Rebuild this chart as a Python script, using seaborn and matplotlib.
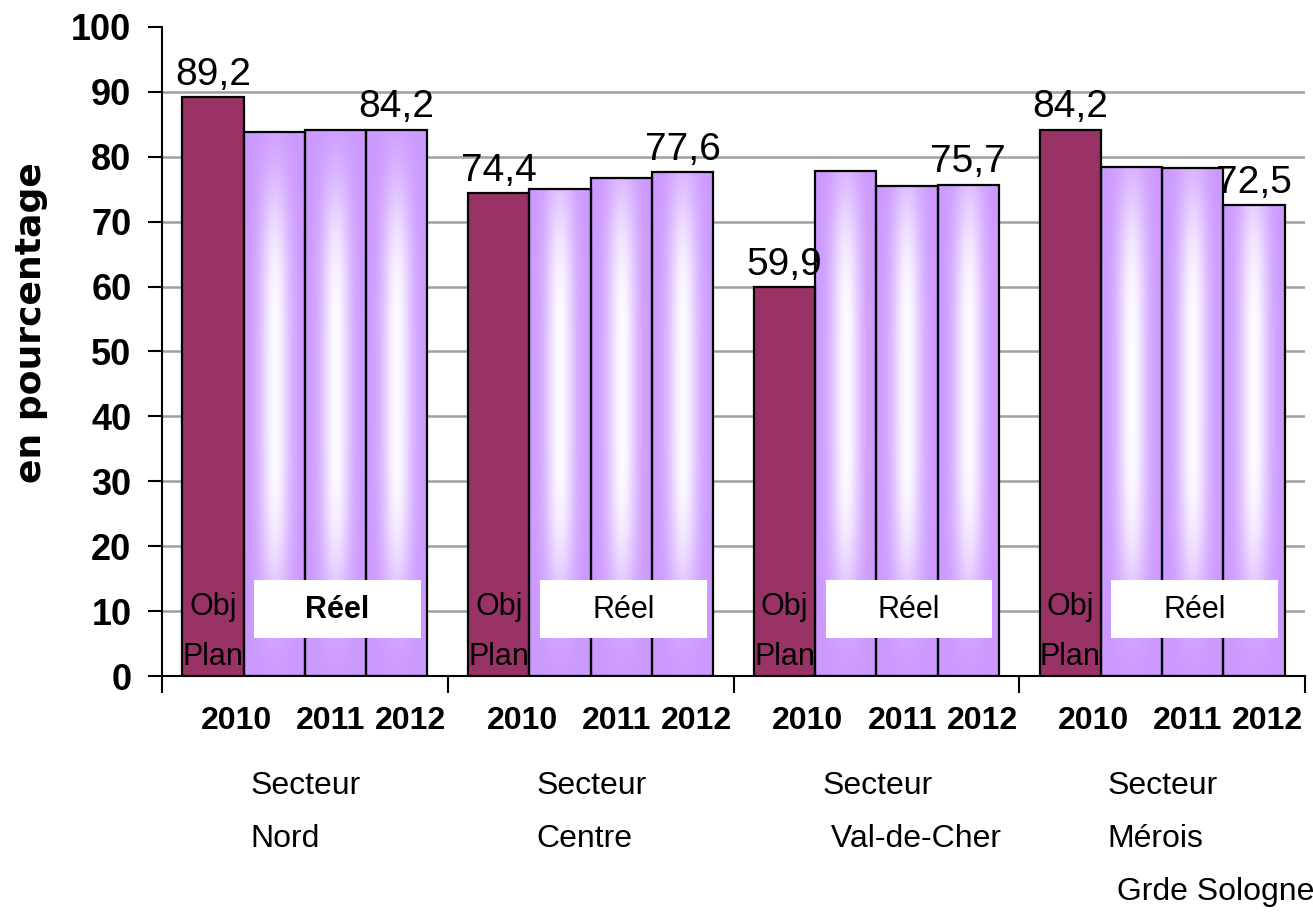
import numpy as np
import pandas as pd
import seaborn as sns
import matplotlib.pyplot as plt
from matplotlib import font_manager
from matplotlib.patches import Rectangle
from matplotlib.transforms import blended_transform_factory

# ===============================
# Data
# ===============================
SECTEURS = ["Nord", "Centre", "Val-de-Cher", "Mérois"]
SECTEUR_LIGNES = [
    ["Secteur", "Nord"],
    ["Secteur", "Centre"],
    ["Secteur", " Val-de-Cher"],
    ["Secteur", "Mérois", " Grde Sologne"],
]
SERIES = ["Obj Plan 2010", "Réel 2010", "Réel 2011", "Réel 2012"]
OBJ_2010 = [89.2, 74.4, 59.9, 84.2]
REEL_2010 = [83.8, 75.1, 77.8, 78.5]
REEL_2011 = [84.1, 76.7, 75.5, 78.2]
REEL_2012 = [84.2, 77.6, 75.7, 72.5]
YEARS = ["2010", "2011", "2012"]
YTICKS = list(range(0, 101, 10))

# ===============================
# Style
# ===============================
MAROON = "#993366"
PURPLE = "#cc99ff"
GRID = "#a0a0a0"

sns.set_style("white")
plt.rcParams["font.family"] = ["Liberation Sans", "DejaVu Sans"]
plt.rcParams["text.color"] = "black"
plt.rcParams["axes.labelcolor"] = "black"
plt.rcParams["xtick.color"] = "black"
plt.rcParams["ytick.color"] = "black"

# narrow face for value labels / sector names if one is installed
installed = {f.name for f in font_manager.fontManager.ttflist}
if "Liberation Sans Narrow" in installed:
    NARROW, VAL_SIZE, SECT_SIZE = "Liberation Sans Narrow", 32, 26
else:
    NARROW, VAL_SIZE, SECT_SIZE = "Liberation Sans", 28, 23

df = pd.DataFrame({
    "secteur": SECTEURS * len(SERIES),
    "serie": np.repeat(SERIES, len(SECTEURS)),
    "valeur": OBJ_2010 + REEL_2010 + REEL_2011 + REEL_2012,
})

fig = plt.figure(figsize=(13.13, 9.15), dpi=100)
ax = fig.add_axes([0.1234, 0.2612, 0.8705, 0.7093])

sns.barplot(
    data=df, x="secteur", y="valeur", hue="serie",
    order=SECTEURS, hue_order=SERIES,
    palette=[MAROON, PURPLE, PURPLE, PURPLE], saturation=1,
    width=0.857, errorbar=None, edgecolor="black", linewidth=1.6,
    legend=False, zorder=3, ax=ax,
)

# --- "centre glow" gradient on the Réel bars ---
base = np.array([0.80, 0.60, 1.00])
for cont in ax.containers[1:]:
    for bar in cont:
        x0, w, h = bar.get_x(), bar.get_width(), bar.get_height()
        yy = np.linspace(h, 0, 300)[:, None]
        uu = np.linspace(0, 1, 80)[None, :]
        glow = 0.97 * np.exp(-((uu - 0.5) / 0.24) ** 2) * np.exp(-(np.abs(yy - 44) / 32) ** 4)
        rgb = base + (1 - base) * glow[..., None]
        im = ax.imshow(rgb, extent=(x0, x0 + w, 0, h), origin="upper",
                       aspect="auto", zorder=2.5, interpolation="bilinear")
        im.set_clip_path(bar)
        bar.set_facecolor("none")

ax.set_xlim(-0.5, 3.5)
ax.set_ylim(0, 100)

# --- axes, grid, ticks ---
ax.set_axisbelow(True)
ax.set_yticks(YTICKS)
ax.yaxis.grid(True, color=GRID, linewidth=1.8)
ax.yaxis.get_gridlines()[-1].set_visible(False)
for side in ["top", "right"]:
    ax.spines[side].set_visible(False)
for side in ["left", "bottom"]:
    ax.spines[side].set_color("black")
    ax.spines[side].set_linewidth(1.5)

ax.tick_params(axis="y", left=True, length=10, width=1.5, pad=12,
               labelsize=26, direction="out")
for lab in ax.get_yticklabels():
    lab.set_fontweight("bold")

ax.set_xticks(np.arange(-0.5, 4, 1))
ax.set_xticklabels([])
ax.tick_params(axis="x", bottom=True, length=12, width=1.5, direction="out")
ax.set_xlabel("")
ax.set_ylabel("en pourcentage", fontsize=26, fontweight="bold", family="DejaVu Sans")
ax.yaxis.set_label_coords(-0.100, 0.545)

trans = blended_transform_factory(ax.transData, ax.transAxes)

# --- year labels and sector names under the axis ---
YEAR_DX = [-0.24, 0.09, 0.37]
for i in range(len(SECTEURS)):
    for dx, yr in zip(YEAR_DX, YEARS):
        ax.text(i + dx, -0.069, yr, transform=trans, ha="center", va="center",
                fontsize=23, fontweight="bold")
    for k, line in enumerate(SECTEUR_LIGNES[i]):
        ax.text(i - 0.19, -0.1695 - 0.0815 * k, line, transform=trans,
                ha="left", va="center", fontsize=SECT_SIZE, family=NARROW)

# --- value labels on Obj Plan 2010 and Réel 2012 ---
for cont in (ax.containers[0], ax.containers[3]):
    for bar in cont:
        v = bar.get_height()
        ax.annotate(f"{v:.1f}".replace(".", ","),
                    xy=(bar.get_x() + bar.get_width() / 2, v),
                    xytext=(0, 9), textcoords="offset points",
                    ha="center", va="baseline", fontsize=VAL_SIZE,
                    family=NARROW, zorder=6)

# --- "Obj Plan" and "Réel" captions inside the bars ---
for i, bar in enumerate(ax.containers[0]):
    cx = bar.get_x() + bar.get_width() / 2
    ax.text(cx, 10.6, "Obj", ha="center", va="center", fontsize=22, zorder=6)
    ax.text(cx, 2.9, "Plan", ha="center", va="center", fontsize=22, zorder=6)
    ax.add_patch(Rectangle((i + 0.114 - 0.292, 5.9), 0.584, 8.9,
                           facecolor="white", edgecolor="none", zorder=5))
    ax.text(i + 0.114, 10.2, "Réel", ha="center", va="center", fontsize=22,
            fontweight="bold" if i == 0 else "normal", zorder=6)

fig.savefig("out.png", dpi=100)
